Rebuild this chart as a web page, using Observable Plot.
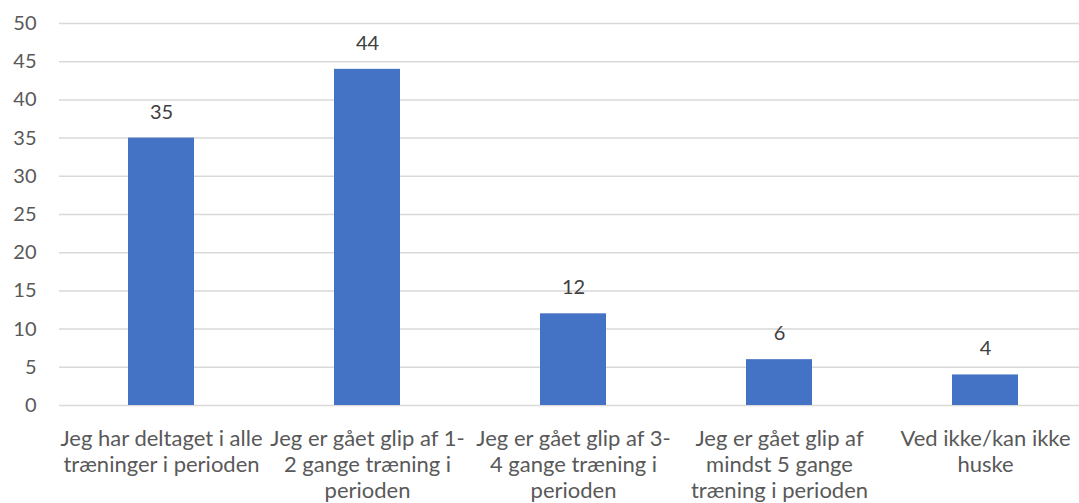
<!DOCTYPE html>
<html>
<head>
<meta charset="utf-8">
<script src="https://cdn.jsdelivr.net/npm/d3@7"></script>
<script src="https://cdn.jsdelivr.net/npm/@observablehq/plot@0.6"></script>
<style>
  html, body { margin: 0; padding: 0; background: #fff; }
  #chart svg { display: block; }
</style>
</head>
<body>
<div id="chart"></div>
<script>
const categories = [
  "Jeg har deltaget i alle\ntræninger i perioden",
  "Jeg er gået glip af 1-\n2 gange træning i\nperioden",
  "Jeg er gået glip af 3-\n4 gange træning i\nperioden",
  "Jeg er gået glip af\nmindst 5 gange\ntræning i perioden",
  "Ved ikke/kan ikke\nhuske"
];
const values = [35, 44, 12, 6, 4];
const yTicks = [0, 5, 10, 15, 20, 25, 30, 35, 40, 45, 50];

const data = categories.map((c, i) => ({category: c, value: values[i]}));
const font = "Lato, 'Open Sans', sans-serif";

const chart = Plot.plot({
  width: 1079,
  height: 503,
  marginTop: 23,
  marginBottom: 98,
  marginLeft: 59,
  marginRight: 0,
  style: {fontFamily: font, fontSize: "20px", color: "#595959", background: "#fff"},
  x: {domain: categories, range: [56, 1089], paddingInner: 0.68, paddingOuter: 0.34, label: null},
  y: {domain: [0, 50], label: null},
  marks: [
    Plot.gridY(yTicks, {stroke: "#d9d9d9", strokeOpacity: 1, strokeWidth: 1.5}),
    Plot.barY(data, {x: "category", y: "value", fill: "#4472C4"}),
    Plot.text(data, {x: "category", y: "value", text: d => String(d.value), dy: -26, fill: "#404040", fontSize: 20, fontFamily: font}),
    Plot.axisY({ticks: yTicks, tickSize: 0, tickPadding: 23, fill: "#595959", fontSize: 20, label: null}),
    Plot.axisX({tickSize: 0, tickPadding: 22, lineHeight: 1.18, fill: "#595959", fontSize: 22, label: null, textAnchor: "middle"})
  ]
});
document.getElementById("chart").appendChild(chart);
</script>
</body>
</html>
